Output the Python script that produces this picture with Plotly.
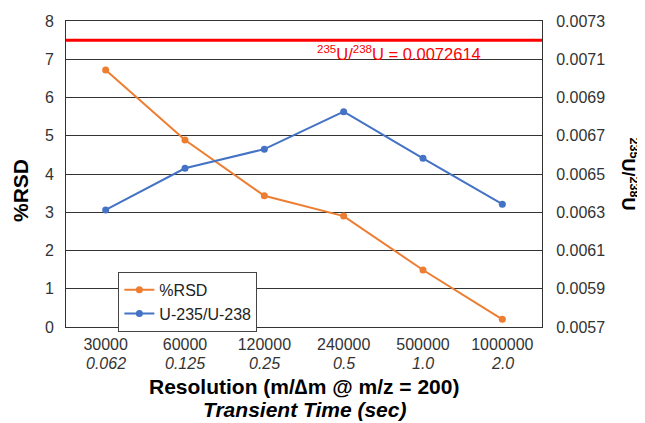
import plotly.graph_objects as go

resolution = ["30000", "60000", "120000", "240000", "500000", "1000000"]
transient = ["0.062", "0.125", "0.25", "0.5", "1.0", "2.0"]
rsd = [6.72, 4.89, 3.43, 2.90, 1.49, 0.20]
ratio = [0.006312, 0.00653, 0.00663, 0.006826, 0.006582, 0.006342]
ref_label_value = "0.0072614"
ref_line_rsd_level = 7.5

font_family = "Arial, Liberation Sans, sans-serif"

fig = go.Figure()
fig.add_trace(go.Scatter(
    x=resolution, y=rsd, name="%RSD", mode="lines+markers",
    line=dict(color="#ED7D31", width=2), marker=dict(size=7, color="#ED7D31"),
))
fig.add_trace(go.Scatter(
    x=resolution, y=ratio, name="U-235/U-238", mode="lines+markers", yaxis="y2",
    line=dict(color="#4472C4", width=2), marker=dict(size=7, color="#4472C4"),
))

fig.add_shape(type="line", xref="paper", yref="y", x0=0, x1=1,
              y0=ref_line_rsd_level, y1=ref_line_rsd_level,
              line=dict(color="#FF0000", width=3), layer="above")
fig.add_annotation(xref="paper", yref="y", x=0.70, y=ref_line_rsd_level,
                   yanchor="top", xanchor="center", yshift=-1, showarrow=False,
                   text="<sup>235</sup>U/<sup>238</sup>U = " + ref_label_value,
                   font=dict(color="#FF0000", size=16.5, family=font_family))
fig.add_annotation(xref="paper", yref="paper", x=1, xshift=101, y=0.5, xanchor="right",
                   showarrow=False, textangle=90,
                   text="<b><sup>235</sup>U/<sup>238</sup>U</b>",
                   font=dict(color="#000000", size=18, family=font_family))
fig.add_annotation(xref="paper", yref="paper", x=0.5, y=0, yshift=-59,
                   showarrow=False, yanchor="middle",
                   text="<b>Resolution (m/∆m @ m/z = 200)</b>",
                   font=dict(color="#000000", size=21, family=font_family))
fig.add_annotation(xref="paper", yref="paper", x=0.5, y=0, yshift=-82,
                   showarrow=False, yanchor="middle",
                   text="<b><i>Transient Time (sec)</i></b>",
                   font=dict(color="#000000", size=21, family=font_family))
fig.add_annotation(xref="paper", yref="paper", x=0, xshift=-46, y=0.5, yshift=-17,
                   xanchor="center", showarrow=False, textangle=-90,
                   text="<b>%RSD</b>",
                   font=dict(color="#000000", size=21, family=font_family))
for i, t in enumerate(transient):
    fig.add_annotation(xref="x", yref="paper", x=i, y=0, yshift=-36,
                       yanchor="middle", showarrow=False, text=f"<i>{t}</i>",
                       font=dict(color="#333333", size=16, family=font_family))

fig.update_layout(
    width=645, height=423,
    margin=dict(l=58, r=111, t=13, b=104),
    paper_bgcolor="white", plot_bgcolor="white",
    font=dict(family=font_family, color="#333333", size=14),
    showlegend=True,
    legend=dict(x=0.11, y=0.18, xanchor="left", yanchor="top",
                bgcolor="white", bordercolor="#444444", borderwidth=1,
                font=dict(size=16, color="#222222"), tracegroupgap=0,
                itemwidth=30),
    xaxis=dict(type="category", categoryorder="array", categoryarray=resolution,
               range=[-0.5, len(resolution) - 0.5],
               showline=True, mirror=True, linecolor="#333333", linewidth=1,
               showgrid=False, ticks="", tickfont=dict(size=16, color="#333333"),
               automargin=False, ticklabelstandoff=3),
    yaxis=dict(range=[0, 8], dtick=1, showgrid=True, gridcolor="#333333", gridwidth=1,
               showline=True, linecolor="#333333", mirror=False, zeroline=False,
               tickfont=dict(size=16, color="#333333"), ticks="", automargin=False,
               ticklabelstandoff=8),
    yaxis2=dict(range=[0.0057, 0.0073], tick0=0.0057, dtick=0.0002, tickformat=".4f",
                overlaying="y", side="right", showgrid=False, zeroline=False,
                showline=True, linecolor="#333333", ticks="", automargin=False,
                tickfont=dict(size=16, color="#333333"), ticklabelstandoff=10),
)

fig.write_html("out.html")
